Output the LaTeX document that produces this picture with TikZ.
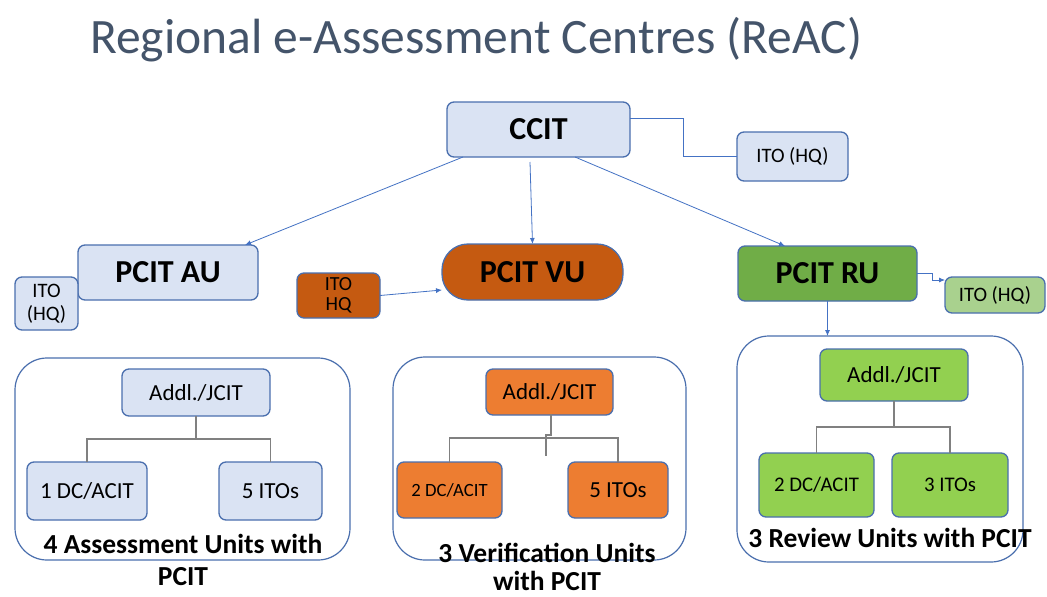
\documentclass[tikz,border=0pt]{standalone}
\usepackage{fontspec}
\setmainfont{Carlito}
\usetikzlibrary{arrows.meta,calc}
\definecolor{lblue}{HTML}{DAE3F3}
\definecolor{bord}{HTML}{4A6FAE}
\definecolor{dorange}{HTML}{C55A11}
\definecolor{morange}{HTML}{ED7D31}
\definecolor{dgreen}{HTML}{70AD47}
\definecolor{mgreen}{HTML}{92D050}
\definecolor{lgreen}{HTML}{A9D18E}
\definecolor{titlec}{HTML}{44546A}
\definecolor{connc}{HTML}{4472C4}
\definecolor{treec}{HTML}{808080}
\newcommand\myfs[2]{\fontsize{#1}{#2}\selectfont}
\tikzset{
 box/.style={draw=bord, line width=1.3pt, rounded corners=7pt, inner sep=0pt, outer sep=0pt, align=center, text=black},
 grp/.style={draw=bord, line width=1.2pt, rounded corners=32pt, inner sep=0pt, outer sep=0pt},
 conn/.style={draw=connc, line width=0.8pt, -{Latex[length=6pt,width=5pt]}},
 plainc/.style={draw=connc, line width=0.8pt},
 tree/.style={draw=treec, line width=1.2pt},
 bigt/.style={font=\myfs{32}{36}\bfseries},
 smallt/.style={font=\myfs{20.5}{23}},
 midt/.style={font=\myfs{23}{26}},
 lab/.style={font=\myfs{27.5}{31}\bfseries, inner sep=0pt, text=black, anchor=base},
}
\begin{document}
\begin{tikzpicture}[x=1pt,y=-1pt]
\useasboundingbox[fill=white] (0,0) rectangle (1047,597);
% title
\node[anchor=base west, inner sep=0pt, text=titlec, font=\myfs{49.5}{56}] (title) at (90,53) {Regional e-Assessment Centres (ReAC)};
% top level
\node[box, fill=lblue, bigt, minimum width=183pt, minimum height=55pt] (ccit) at (538.5,129.5) {CCIT};
\node[box, fill=lblue, smallt, minimum width=111pt, minimum height=49pt] (ito1) at (792.5,156.5) {ITO (HQ)};
\node[box, fill=lblue, bigt, minimum width=180pt, minimum height=55pt] (pcitau) at (168,272.5) {PCIT AU};
\node[box, fill=lblue, smallt, minimum width=63pt, minimum height=53pt] (itol) at (46.5,303.5) {ITO\\(HQ)};
\node[box, fill=dorange, font=\myfs{20}{20}, minimum width=83pt, minimum height=45pt] (itom) at (338.5,295.5) {ITO\\HQ};
\node[box, fill=dorange, bigt, rounded corners=26pt, minimum width=181pt, minimum height=56pt] (pcitvu) at (532.5,272) {PCIT VU};
\node[box, fill=dgreen, bigt, minimum width=179pt, minimum height=55pt] (pcitru) at (827.5,273.5) {PCIT RU};
\node[box, fill=lgreen, smallt, minimum width=100pt, minimum height=36pt] (itor) at (995,295) {ITO (HQ)};
% groups
\node[grp, minimum width=335pt, minimum height=202pt] (gau) at (182.5,459) {};
\node[grp, minimum width=293pt, minimum height=203pt] (gvu) at (539.5,458.5) {};
\node[grp, minimum width=286pt, minimum height=226pt] (gru) at (880,449) {};
% AU group
\node[box, fill=lblue, midt, minimum width=148pt, minimum height=47pt] (a1) at (196,392.5) {Addl./JCIT};
\node[box, fill=lblue, midt, minimum width=120pt, minimum height=58pt] (a2) at (87,491) {1 DC/ACIT};
\node[box, fill=lblue, midt, minimum width=103pt, minimum height=58pt] (a3) at (270.5,491) {5 ITOs};
% VU group
\node[box, fill=morange, midt, minimum width=127pt, minimum height=46pt] (v1) at (549.5,392) {Addl./JCIT};
\node[box, fill=morange, font=\myfs{18.7}{22}, minimum width=105pt, minimum height=56pt] (v2) at (449.5,490) {2 DC/ACIT};
\node[box, fill=morange, midt, minimum width=100pt, minimum height=56pt] (v3) at (618,490) {5 ITOs};
% RU group
\node[box, fill=mgreen, midt, minimum width=148pt, minimum height=52pt] (r1) at (894,375) {Addl./JCIT};
\node[box, fill=mgreen, font=\myfs{20.8}{24}, minimum width=115pt, minimum height=64pt] (r2) at (816.5,485) {2 DC/ACIT};
\node[box, fill=mgreen, font=\myfs{20.8}{24}, minimum width=116pt, minimum height=64pt] (r3) at (950,485) {3 ITOs};
% labels
\node[lab] (lau1) at (183,553) {4 Assessment Units with};
\node[lab] (lau2) at (183,585) {PCIT};
\node[lab] (lvu1) at (547,562) {3 Verification Units};
\node[lab] (lvu2) at (547,590) {with PCIT};
\node[lab] (lru) at (890,547) {3 Review Units with PCIT};
% connectors
\draw[plainc] ([yshift=11pt]ccit.east) -- ++(53,0) |- (ito1.west);
\draw[conn] ([xshift=16pt]ccit.south west) -- ([xshift=-13pt]pcitau.north east);
\draw[conn] ([xshift=-8.5pt,yshift=-5pt]ccit.south) -- (pcitvu.north);
\draw[conn] ([xshift=36.5pt]ccit.south) -- ([xshift=-42.5pt]pcitru.north);
\draw[conn] (itom.east) -- ([yshift=-18pt]pcitvu.west);
\draw[conn] (pcitru.east) -- ++(15,0) |- ([yshift=-3pt]itor.north west);
\draw[conn] (pcitru.south) -- (pcitru.south |- gru.north);
% trees
\draw[tree] (a1.south) -- ++(0,23) -| (a2.north);
\draw[tree] (a1.south) ++(0,23) -| (a3.north);
\draw[tree] (v1.south) -- ++(1.5,0) -- ++(0,20) -- ++(-5,0) -- ++(0,21);
\draw[tree] (v2.north) -- ++(0,-24) -| (v3.north);
\draw[tree] (r1.south) -- ++(0,26) -| (r2.north);
\draw[tree] (r1.south) ++(0,26) -| (r3.north);
\end{tikzpicture}
\end{document}
